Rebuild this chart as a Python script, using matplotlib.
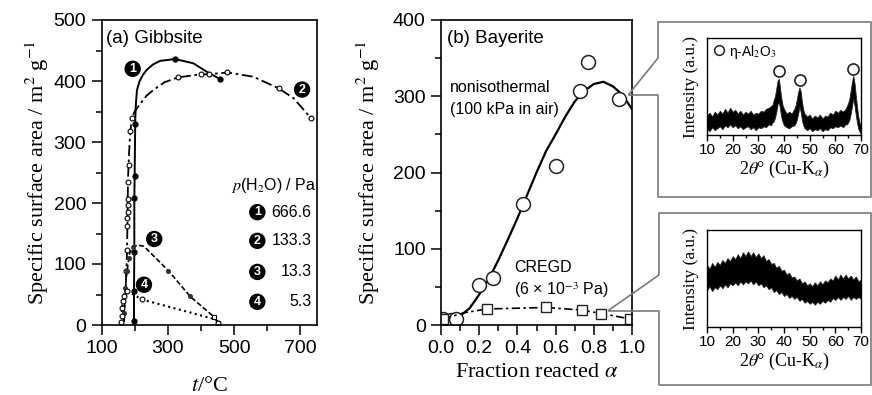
import matplotlib.pyplot as plt
from matplotlib.lines import Line2D
from matplotlib.ticker import MultipleLocator, FixedLocator

plt.rcParams['font.family'] = ['Liberation Sans', 'DejaVu Sans']
plt.rcParams['mathtext.fontset'] = 'stix'
plt.rcParams['axes.linewidth'] = 1.2

SERIF = ['Liberation Serif', 'DejaVu Serif']

# ---- (a) gibbsite: surface area vs temperature at four p(H2O) ----
# 666.6 Pa
t1_line = [198, 198, 199, 199, 200, 201, 202, 204, 207, 215, 225, 236, 255, 277, 322, 377, 418, 458]
s1_line = [5, 55, 120, 208, 245, 300, 340, 365, 385, 400, 410, 418, 427, 433, 436, 429, 415, 403]
t1_pts = [198, 198, 199, 199, 200, 202, 322, 458]
s1_pts = [7, 55, 120, 208, 245, 330, 436, 403]

# 133.3 Pa
t2_line = [168, 170, 173, 175, 177, 178, 179, 180, 183, 186, 191, 200, 216, 236, 256, 290, 332, 400, 423, 480, 558, 634, 679, 732]
s2_line = [5, 30, 60, 90, 120, 160, 200, 240, 280, 310, 339, 350, 362, 376, 385, 398, 406, 411, 411, 414, 407, 388, 372, 339]
t2_pts = [175, 177, 178, 178, 179, 179, 180, 181, 182, 186, 191, 332, 400, 423, 480, 634, 732]
s2_pts = [88, 123, 162, 176, 186, 197, 206, 235, 262, 318, 339, 406, 411, 411, 414, 388, 339]

# 13.3 Pa
t3_line = [166, 168, 170, 172, 175, 180, 185, 196, 210, 228, 302, 367, 440, 452]
s3_line = [5, 20, 40, 60, 80, 100, 118, 128, 131, 129, 89, 47, 13, 4]
t3_pts = [168, 172, 178, 183, 196, 302, 367]
s3_pts = [20, 60, 88, 110, 128, 89, 47]
t3_end = [440, 452]
s3_end = [13, 4]

# 5.3 Pa
t4_line = [160, 161, 162, 164, 168, 176, 190, 221, 445, 452]
s4_line = [3, 15, 30, 40, 50, 55, 52, 42, 9, 3]
t4_pts = [160, 161, 162, 164, 168, 176, 221, 452]
s4_pts = [5, 15, 28, 40, 48, 55, 42, 4]

pressures = ['666.6', '133.3', '13.3', '5.3']

# ---- (b) bayerite: surface area vs fraction reacted ----
a_noniso = [0.01, 0.05, 0.08, 0.20, 0.27, 0.43, 0.60, 0.73, 0.77, 0.93]
s_noniso = [8, 7, 8, 53, 62, 159, 208, 307, 345, 297]
a_fit = [0.0, 0.05, 0.10, 0.15, 0.20, 0.25, 0.30, 0.35, 0.40, 0.45, 0.50, 0.55,
         0.60, 0.65, 0.70, 0.75, 0.80, 0.85, 0.90, 0.95, 1.0]
s_fit = [15, 10, 12, 22, 40, 60, 85, 112, 140, 170, 200, 228,
         250, 273, 293, 307, 316, 319, 313, 302, 283]
a_cregd = [0.01, 0.12, 0.24, 0.55, 0.74, 0.84, 0.99]
s_cregd = [8, 16, 21, 23, 19.5, 15, 8]

# ---- XRD insets: band of the noisy trace (lower / upper edge, a.u.) ----
tth_top = list(range(10, 35)) + [35, 35.5, 36, 36.5, 37, 37.5, 38, 38.5, 39, 39.5, 40,
                                 41, 42, 43, 44, 44.5, 45, 45.5, 46, 46.5, 47, 47.5, 48] \
    + list(range(49, 65)) + [64.5, 65, 65.5, 66, 66.5, 67, 67.5, 68, 68.5, 69, 69.5, 70]
top_lo = [0.06, 0.04, 0.08, 0.05, 0.07, 0.09, 0.06, 0.10, 0.08, 0.11, 0.08, 0.10, 0.07,
          0.09, 0.06, 0.08, 0.09, 0.06, 0.08, 0.05, 0.08, 0.07, 0.09, 0.08, 0.11,
          0.10, 0.13, 0.14, 0.18, 0.24, 0.32, 0.34, 0.26, 0.18, 0.13, 0.10,
          0.08, 0.07, 0.09, 0.10, 0.12, 0.16, 0.22, 0.29, 0.24, 0.15, 0.10, 0.07,
          0.05, 0.07, 0.04, 0.06, 0.05, 0.07, 0.04, 0.06, 0.05, 0.08, 0.07, 0.09,
          0.08, 0.10, 0.08, 0.11,
          0.11, 0.13, 0.16, 0.22, 0.30, 0.38, 0.30, 0.20, 0.12, 0.06, 0.03, 0.01]
top_hi = [0.20, 0.23, 0.19, 0.24, 0.21, 0.25, 0.22, 0.27, 0.23, 0.28, 0.24, 0.26, 0.22,
          0.25, 0.21, 0.24, 0.22, 0.25, 0.21, 0.23, 0.22, 0.25, 0.24, 0.27, 0.28,
          0.30, 0.31, 0.36, 0.40, 0.48, 0.56, 0.58, 0.47, 0.37, 0.30, 0.27,
          0.22, 0.24, 0.22, 0.27, 0.30, 0.37, 0.44, 0.49, 0.45, 0.34, 0.26, 0.22,
          0.19, 0.21, 0.17, 0.20, 0.18, 0.21, 0.17, 0.20, 0.19, 0.23, 0.21, 0.25,
          0.23, 0.26, 0.24, 0.27,
          0.30, 0.33, 0.38, 0.46, 0.55, 0.61, 0.53, 0.40, 0.28, 0.18, 0.12, 0.09]
peak_tth = [37.9, 46.1, 66.8]
peak_y = [0.655, 0.57, 0.68]

tth_bot = list(range(10, 71))
bot_lo = [0.38, 0.42, 0.37, 0.41, 0.39, 0.43, 0.40, 0.44, 0.41, 0.45, 0.43, 0.46, 0.43,
          0.47, 0.44, 0.47, 0.45, 0.48, 0.44, 0.47, 0.43, 0.45, 0.41, 0.43, 0.39, 0.41,
          0.36, 0.38, 0.34, 0.36, 0.32, 0.34, 0.30, 0.32, 0.29, 0.31, 0.27, 0.29, 0.25,
          0.27, 0.24, 0.26, 0.23, 0.26, 0.24, 0.27, 0.25, 0.28, 0.26, 0.30, 0.28, 0.31,
          0.28, 0.31, 0.29, 0.32, 0.28, 0.31, 0.29, 0.31, 0.29]
bot_hi = [0.64, 0.60, 0.66, 0.62, 0.67, 0.64, 0.69, 0.66, 0.71, 0.68, 0.73, 0.70, 0.75,
          0.71, 0.77, 0.73, 0.78, 0.73, 0.77, 0.72, 0.76, 0.71, 0.74, 0.68, 0.70, 0.65,
          0.66, 0.61, 0.63, 0.58, 0.59, 0.54, 0.56, 0.51, 0.52, 0.48, 0.50, 0.45, 0.47,
          0.43, 0.45, 0.42, 0.46, 0.43, 0.47, 0.44, 0.48, 0.46, 0.50, 0.48, 0.53, 0.49,
          0.54, 0.50, 0.54, 0.50, 0.53, 0.49, 0.52, 0.47, 0.49]

W, H = 872, 395
fig = plt.figure(figsize=(W / 100, H / 100), dpi=100)


def rect(x0, y0, x1, y1):
    # pixel box (top-left origin) -> figure fraction rect
    return [x0 / W, 1 - y1 / H, (x1 - x0) / W, (y1 - y0) / H]


def badge(ax, x, y, n, size=9):
    ax.text(x, y, str(n), color='white', fontsize=size, fontweight='bold',
            ha='center', va='center', zorder=5,
            bbox=dict(boxstyle='circle,pad=0.12', fc='black', ec='black'))


def style_main(ax):
    ax.tick_params(which='both', direction='out', labelsize=14, width=1.1, pad=4)
    ax.tick_params(which='major', length=7)
    ax.tick_params(which='minor', length=4)


ylab = r'Specific surface area / m$^2$ g$^{-1}$'

# panel (a)
ax1 = fig.add_axes(rect(101.5, 20, 317, 325))
ax1.plot(t1_line, s1_line, '-', color='k', lw=1.4)
ax1.plot(t1_pts, s1_pts, 'o', color='k', ms=3.5)
ax1.plot(t2_line, s2_line, color='k', lw=1.3, dashes=(6, 2, 1.5, 2))
ax1.plot(t2_pts, s2_pts, 'o', mfc='white', mec='k', ms=3.5, mew=0.8)
ax1.plot(t3_line, s3_line, '--', color='k', lw=1.2, dashes=(3, 1.5))
ax1.plot(t3_pts, s3_pts, 'o', color='#333333', ms=3, mew=0.6)
ax1.plot(t3_end, s3_end, 's', mfc='white', mec='k', ms=3.5, mew=0.8)
ax1.plot(t4_line, s4_line, ':', color='k', lw=1.5)
ax1.plot(t4_pts, s4_pts, 'o', mfc='white', mec='k', ms=3.5, mew=0.8)
ax1.set_xlim(100, 750)
ax1.set_ylim(0, 500)
ax1.xaxis.set_major_locator(FixedLocator([100, 300, 500, 700]))
ax1.xaxis.set_minor_locator(FixedLocator([200, 400, 600]))
ax1.yaxis.set_major_locator(MultipleLocator(100))
ax1.yaxis.set_minor_locator(MultipleLocator(50))
style_main(ax1)
ax1.set_ylabel(ylab, family=SERIF, fontsize=16, labelpad=2)
ax1.set_xlabel(r'$t$/°C', family=SERIF, fontsize=16, labelpad=14)
ax1.text(0.02, 0.94, '(a) Gibbsite', transform=ax1.transAxes, fontsize=13.5,
         ha='left', va='center')
badge(ax1, 194, 420, 1)
badge(ax1, 705, 386, 2)
badge(ax1, 259, 141, 3)
badge(ax1, 228, 66, 4)
ax1.text(0.995, 229, r'$p$(H$_2$O) / Pa', transform=ax1.get_yaxis_transform(),
         fontsize=11.5, ha='right', va='center')
for k, (p, s) in enumerate(zip(pressures, [185, 138, 87, 38])):
    badge(ax1, 570, s, k + 1)
    ax1.text(0.975, s, p, transform=ax1.get_yaxis_transform(), fontsize=11.5,
             ha='right', va='center')

# panel (b)
ax2 = fig.add_axes(rect(441, 20, 632, 325))
ax2.plot(a_fit, s_fit, '-', color='k', lw=1.6)
ax2.plot(a_noniso, s_noniso, 'o', mfc='white', mec='#222222', ms=10, mew=1.1)
ax2.plot(a_cregd, s_cregd, color='k', lw=1.2, dashes=(5, 2, 1.5, 2))
ax2.plot(a_cregd[:1] + a_cregd[2:], s_cregd[:1] + s_cregd[2:], 's', mfc='white',
         mec='#222222', ms=7, mew=1.0)
ax2.set_xlim(0, 1.0)
ax2.set_ylim(0, 400)
ax2.xaxis.set_major_locator(MultipleLocator(0.2))
ax2.xaxis.set_minor_locator(MultipleLocator(0.1))
ax2.yaxis.set_major_locator(MultipleLocator(100))
ax2.yaxis.set_minor_locator(MultipleLocator(50))
ax2.xaxis.set_major_formatter(lambda v, p: f'{v:.1f}')
style_main(ax2)
ax2.set_ylabel(ylab, family=SERIF, fontsize=16, labelpad=8)
ax2.set_xlabel(r'Fraction reacted $\alpha$', family=SERIF, fontsize=16, labelpad=4)
ax2.text(0.03, 0.94, '(b) Bayerite', transform=ax2.transAxes, fontsize=13.5,
         ha='left', va='center')
ax2.text(0.047, 311, 'nonisothermal', fontsize=11.5, ha='left', va='center')
ax2.text(0.047, 283, '(100 kPa in air)', fontsize=11.5, ha='left', va='center')
ax2.text(0.383, 76, 'CREGD', fontsize=11.5, ha='left', va='center')
ax2.text(0.383, 46, r'(6 × 10$^{-3}$ Pa)', fontsize=11.5, ha='left', va='center')


# XRD insets
def xrd_axes(box, tth, lo, hi):
    ax = fig.add_axes(rect(*box))
    ax.fill_between(tth, lo, hi, color='black', lw=0.6, edgecolor='#222222')
    ax.set_xlim(10, 70)
    ax.set_ylim(0, 1)
    ax.set_yticks([])
    ax.xaxis.set_major_locator(MultipleLocator(10))
    ax.xaxis.set_minor_locator(MultipleLocator(5))
    ax.tick_params(which='both', direction='out', labelsize=11, width=1, pad=2)
    ax.tick_params(which='major', length=4)
    ax.tick_params(which='minor', length=2.5)
    ax.set_ylabel('Intensity (a.u.)', family=SERIF, fontsize=12.5, labelpad=6)
    ax.set_xlabel(r'2$\theta$° (Cu-K$_\alpha$)', family=SERIF, fontsize=13, labelpad=1)
    for s in ax.spines.values():
        s.set_linewidth(1.0)
    return ax


ax3 = xrd_axes((707, 38, 861, 135), tth_top, top_lo, top_hi)
ax3.plot(peak_tth, peak_y, 'o', mfc='white', mec='#222222', ms=8, mew=1.2)
ax3.plot([14.5], [0.88], 'o', mfc='white', mec='#222222', ms=7, mew=1.1)
ax3.text(18.5, 0.86, r'η-Al$_2$O$_3$', fontsize=10, ha='left', va='center')

ax4 = xrd_axes((707, 230, 861, 327), tth_bot, bot_lo, bot_hi)

# callout frames around the insets
gray = '#7a7a7a'


def frame(pts):
    xs = [p[0] / W for p in pts]
    ys = [1 - p[1] / H for p in pts]
    fig.add_artist(Line2D(xs, ys, color=gray, lw=1.2, transform=fig.transFigure))


frame([(629, 94), (658, 58), (658, 22), (871, 22), (871, 197), (658, 197),
       (658, 95), (629, 95)])
frame([(609, 310), (659, 275), (659, 213), (871, 213), (871, 385), (659, 385),
       (659, 311), (609, 311)])

fig.savefig('out.png', dpi=100)
